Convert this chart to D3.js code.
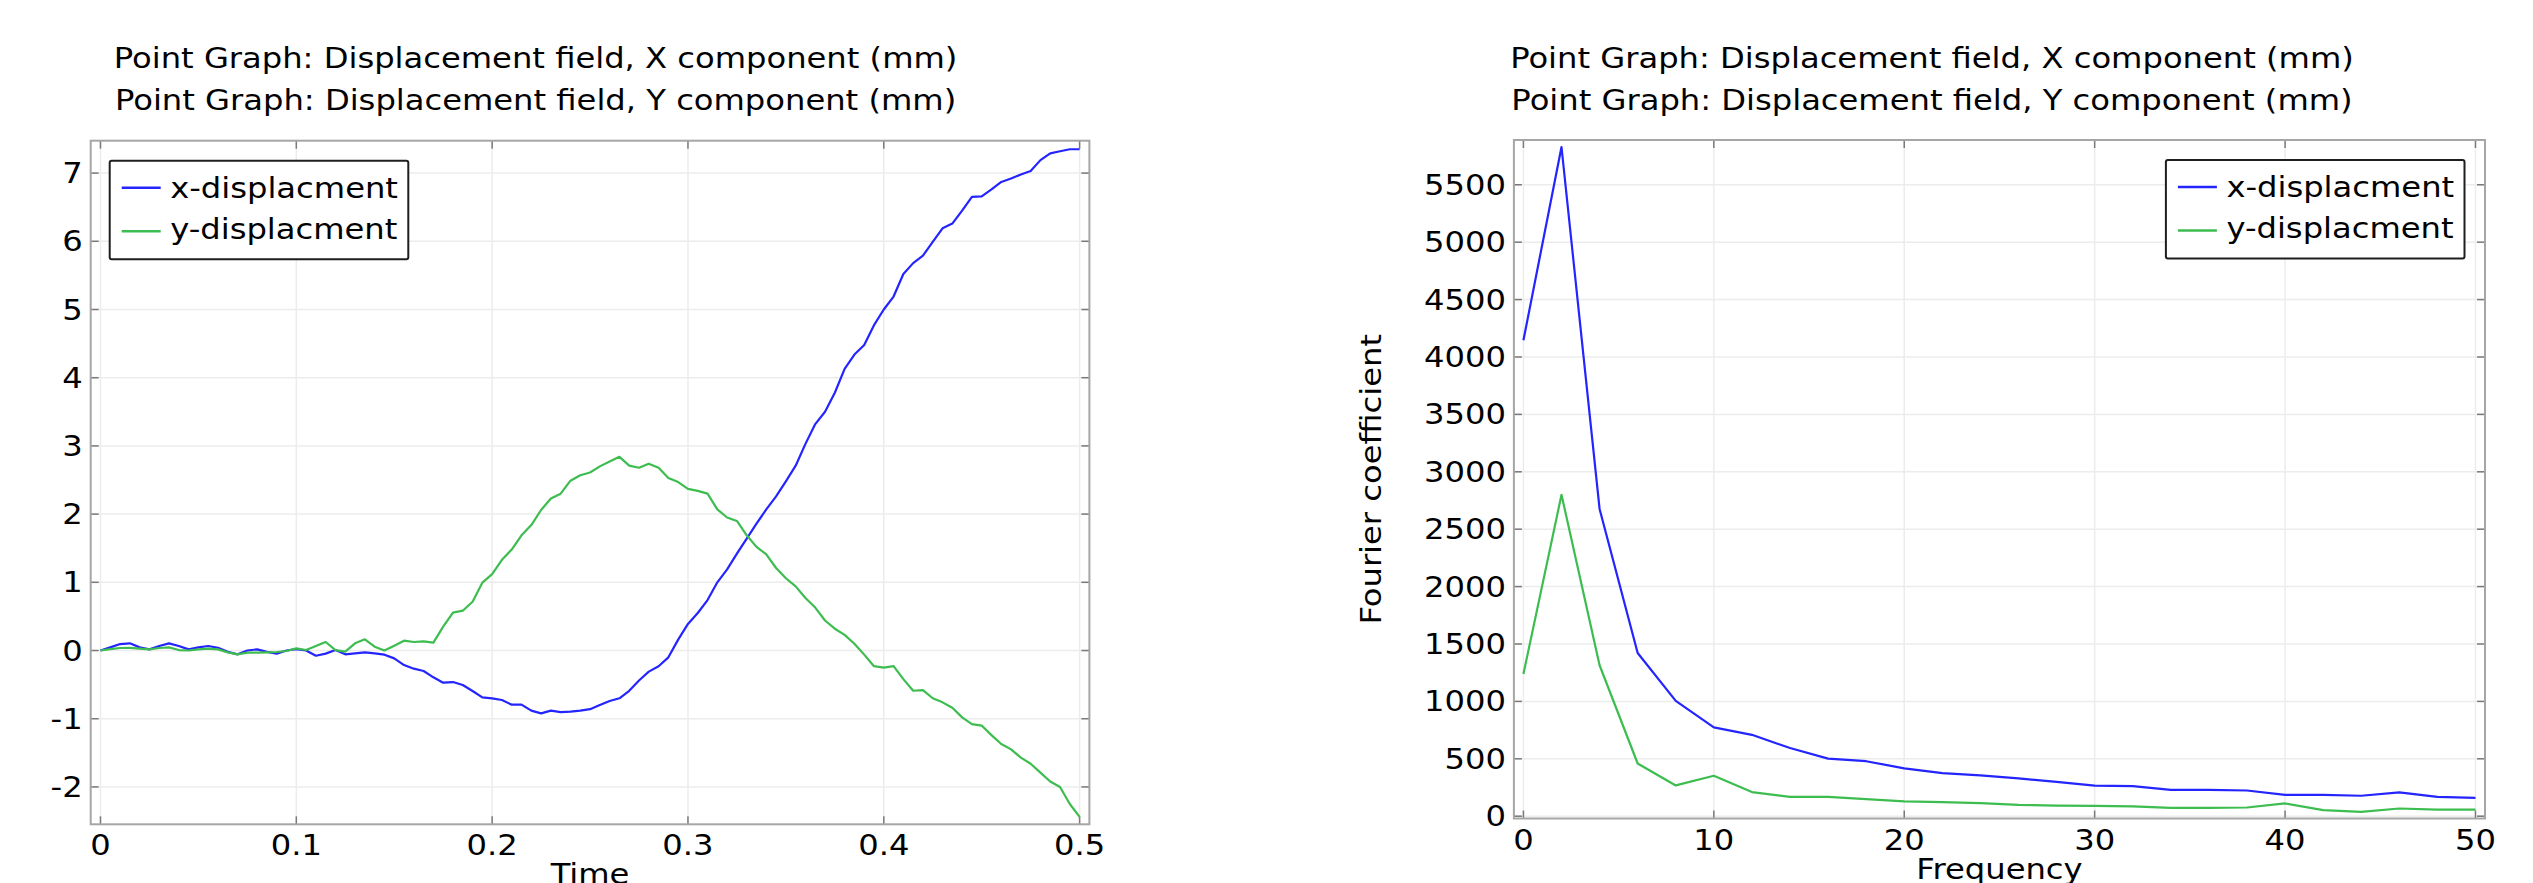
<!DOCTYPE html>
<html>
<head>
<meta charset="utf-8">
<script src="https://cdn.jsdelivr.net/npm/d3@7"></script>
<style>
  body { margin: 0; background: #fff; }
  text { font-family: "DejaVu Sans", sans-serif; fill: #000; }
</style>
</head>
<body>
<svg id="chart"></svg>
<script>
// ---- data ----
const titleLines = ["Point Graph: Displacement field, X component (mm)",
                    "Point Graph: Displacement field, Y component (mm)"];
const seriesNames = ["x-displacment", "y-displacment"];

// time samples (s)
const time = [0,0.005,0.01,0.015,0.02,0.025,0.03,0.035,0.04,0.045,0.05,0.055,0.06,0.065,0.07,0.075,0.08,0.085,0.09,0.095,
  0.1,0.105,0.11,0.115,0.12,0.125,0.13,0.135,0.14,0.145,0.15,0.155,0.16,0.165,0.17,0.175,0.18,0.185,0.19,0.195,
  0.2,0.205,0.21,0.215,0.22,0.225,0.23,0.235,0.24,0.245,0.25,0.255,0.26,0.265,0.27,0.275,0.28,0.285,0.29,0.295,
  0.3,0.305,0.31,0.315,0.32,0.325,0.33,0.335,0.34,0.345,0.35,0.355,0.36,0.365,0.37,0.375,0.38,0.385,0.39,0.395,
  0.4,0.405,0.41,0.415,0.42,0.425,0.43,0.435,0.44,0.445,0.45,0.455,0.46,0.465,0.47,0.475,0.48,0.485,0.49,0.495,0.5];
const xDisp = [0,0.046,0.095,0.105,0.046,0.017,0.066,0.105,0.066,0.017,0.046,0.066,0.04,-0.02,-0.056,0,0.017,-0.02,-0.046,0,
  0.02,0,-0.076,-0.046,0.007,-0.056,-0.042,-0.027,-0.042,-0.061,-0.115,-0.213,-0.266,-0.3,-0.393,-0.472,-0.462,-0.506,-0.594,-0.687,
  -0.702,-0.726,-0.794,-0.794,-0.882,-0.921,-0.882,-0.902,-0.897,-0.882,-0.86,-0.8,-0.74,-0.7,-0.59,-0.44,-0.31,-0.23,-0.1,0.16,
  0.39,0.55,0.74,1.0,1.19,1.42,1.64,1.86,2.07,2.26,2.48,2.71,3.03,3.32,3.5,3.78,4.13,4.34,4.48,4.77,
  5.0,5.19,5.52,5.68,5.79,5.99,6.19,6.26,6.45,6.65,6.66,6.76,6.87,6.92,6.98,7.03,7.19,7.29,7.32,7.35,7.35];
const yDisp = [0,0.02,0.037,0.04,0.027,0.017,0.037,0.046,0.007,0,0.017,0.027,0.017,-0.027,-0.056,-0.032,-0.032,-0.027,-0.022,-0.007,
  0.032,0.007,0.066,0.125,0.007,-0.017,0.105,0.164,0.056,0,0.07,0.144,0.125,0.134,0.115,0.35,0.555,0.584,0.716,0.995,
  1.12,1.33,1.48,1.69,1.84,2.06,2.23,2.3,2.49,2.57,2.61,2.7,2.77,2.84,2.71,2.68,2.74,2.68,2.53,2.47,
  2.37,2.34,2.3,2.07,1.95,1.9,1.69,1.52,1.41,1.21,1.06,0.94,0.77,0.63,0.44,0.32,0.23,0.1,-0.06,-0.23,
  -0.25,-0.23,-0.42,-0.59,-0.58,-0.7,-0.76,-0.84,-0.98,-1.08,-1.1,-1.24,-1.37,-1.45,-1.57,-1.66,-1.79,-1.92,-2.0,-2.25,-2.44];

// fourier spectrum
const freq = [0,2,4,6,8,10,12,14,16,18,20,22,24,26,28,30,32,34,36,38,40,42,44,46,48,50];
const xFourier = [4145,5829,2676,1422,1004,774,709,594,502,479,417,375,356,329,299,267,262,230,230,224,186,186,178,207,169,160];
const yFourier = [1238,2800,1315,459,268,352,210,168,168,149,130,122,114,99,93,90,85,73,73,76,111,53,38,67,58,58];

// tick labels
const timeTicks = [0, 0.1, 0.2, 0.3, 0.4, 0.5];
const timeTickLabels = ["0", "0.1", "0.2", "0.3", "0.4", "0.5"];
const dispTicks = [-2, -1, 0, 1, 2, 3, 4, 5, 6, 7];
const dispTickLabels = ["-2", "-1", "0", "1", "2", "3", "4", "5", "6", "7"];
const freqTicks = [0, 10, 20, 30, 40, 50];
const freqTickLabels = ["0", "10", "20", "30", "40", "50"];
const coefTicks = [0, 500, 1000, 1500, 2000, 2500, 3000, 3500, 4000, 4500, 5000, 5500];
const coefTickLabels = coefTicks.map(String);

const colors = ["#2424ff", "#3dbd50"];

// ---- layout ----
const width = 2533, height = 883;
const fontSize = 28;
const stretch = 1.15;   // the picture's font is wider than DejaVu

const svg = d3.select("#chart")
    .attr("width", width)
    .attr("height", height)
    .style("display", "block");
svg.append("rect").attr("width", width).attr("height", height).attr("fill", "#fff");

// put a widened text at x,y (widened along the text direction)
function label(g, str, x, y, anchor, rot) {
    return g.append("text")
        .attr("transform", "translate(" + x + "," + y + ")" + (rot ? " rotate(" + rot + ")" : "") + " scale(" + stretch + ",1)")
        .attr("text-anchor", anchor)
        .style("font-size", fontSize + "px")
        .text(str);
}

function panel(cfg) {
    const g = svg.append("g");
    const x = d3.scaleLinear().domain(cfg.xDomain).range([cfg.left, cfg.right]);
    const y = d3.scaleLinear().domain(cfg.yDomain).range([cfg.bottom, cfg.top]);

    // grid
    g.selectAll(".gx").data(cfg.xTicks).enter().append("line")
        .attr("x1", d => x(d)).attr("x2", d => x(d))
        .attr("y1", cfg.top).attr("y2", cfg.bottom)
        .attr("stroke", "#ececec").attr("stroke-width", 1.5);
    g.selectAll(".gy").data(cfg.yTicks).enter().append("line")
        .attr("x1", cfg.left).attr("x2", cfg.right)
        .attr("y1", d => y(d)).attr("y2", d => y(d))
        .attr("stroke", "#ececec").attr("stroke-width", 1.5);

    // inward ticks on all four sides
    const tl = 8;
    cfg.xTicks.forEach(d => {
        g.append("line").attr("x1", x(d)).attr("x2", x(d)).attr("y1", cfg.bottom).attr("y2", cfg.bottom - tl)
            .attr("stroke", "#7a7a7a").attr("stroke-width", 1.5);
        g.append("line").attr("x1", x(d)).attr("x2", x(d)).attr("y1", cfg.top).attr("y2", cfg.top + tl)
            .attr("stroke", "#7a7a7a").attr("stroke-width", 1.5);
    });
    cfg.yTicks.forEach(d => {
        g.append("line").attr("x1", cfg.left).attr("x2", cfg.left + tl).attr("y1", y(d)).attr("y2", y(d))
            .attr("stroke", "#7a7a7a").attr("stroke-width", 1.5);
        g.append("line").attr("x1", cfg.right).attr("x2", cfg.right - tl).attr("y1", y(d)).attr("y2", y(d))
            .attr("stroke", "#7a7a7a").attr("stroke-width", 1.5);
    });

    // frame
    g.append("rect")
        .attr("x", cfg.left).attr("y", cfg.top)
        .attr("width", cfg.right - cfg.left).attr("height", cfg.bottom - cfg.top)
        .attr("fill", "none").attr("stroke", "#a6a6a6").attr("stroke-width", 2);

    // lines
    const line = d3.line().x(d => x(d[0])).y(d => y(d[1]));
    cfg.series.forEach((s, i) => {
        g.append("path")
            .datum(cfg.xs.map((v, j) => [v, s[j]]))
            .attr("d", line)
            .attr("fill", "none")
            .attr("stroke", colors[i])
            .attr("stroke-width", 2.2)
            .attr("stroke-linejoin", "round");
    });

    // tick labels
    cfg.xTicks.forEach((d, i) => label(g, cfg.xTickLabels[i], x(d), cfg.bottom + 31, "middle"));
    cfg.yTicks.forEach((d, i) => label(g, cfg.yTickLabels[i], cfg.left - 8, y(d) + 10, "end"));

    // axis titles
    label(g, cfg.xTitle, (cfg.left + cfg.right) / 2, cfg.bottom + 60, "middle");
    if (cfg.yTitle) label(g, cfg.yTitle, cfg.yTitleX, (cfg.top + cfg.bottom) / 2, "middle", -90);

    // plot title
    titleLines.forEach((t, i) => label(g, t, cfg.titleX, 68 + i * 42, "middle"));

    // legend
    const lw = 298.6, lh = 98.5;
    const lx = cfg.legendRight ? cfg.right - 20.5 - lw : cfg.left + 19;
    const ly = cfg.top + 20;
    g.append("rect").attr("x", lx).attr("y", ly).attr("width", lw).attr("height", lh)
        .attr("fill", "#fff").attr("stroke", "#1e1e1e").attr("stroke-width", 2).attr("rx", 2);
    seriesNames.forEach((n, i) => {
        g.append("line").attr("x1", lx + 12).attr("x2", lx + 51)
            .attr("y1", ly + 27 + i * 43.5).attr("y2", ly + 27 + i * 43.5)
            .attr("stroke", colors[i]).attr("stroke-width", 2.5);
        label(g, n, lx + 60.5, ly + 36.8 + i * 41.5, "start");
    });
}

panel({
    left: 90.7, right: 1089.4, top: 140.7, bottom: 824.3,
    xDomain: [-0.005, 0.505], yDomain: [-2.548, 7.475],
    xs: time, series: [xDisp, yDisp],
    xTicks: timeTicks, xTickLabels: timeTickLabels,
    yTicks: dispTicks, yTickLabels: dispTickLabels,
    xTitle: "Time", titleX: 535.6, legendRight: false
});

panel({
    left: 1513.9, right: 2485, top: 140, bottom: 818.5,
    xDomain: [-0.5, 50.5], yDomain: [-20, 5890],
    xs: freq, series: [xFourier, yFourier],
    xTicks: freqTicks, xTickLabels: freqTickLabels,
    yTicks: coefTicks, yTickLabels: coefTickLabels,
    xTitle: "Frequency", yTitle: "Fourier coefficient", yTitleX: 1381,
    titleX: 1932, legendRight: true
});
</script>
</body>
</html>
